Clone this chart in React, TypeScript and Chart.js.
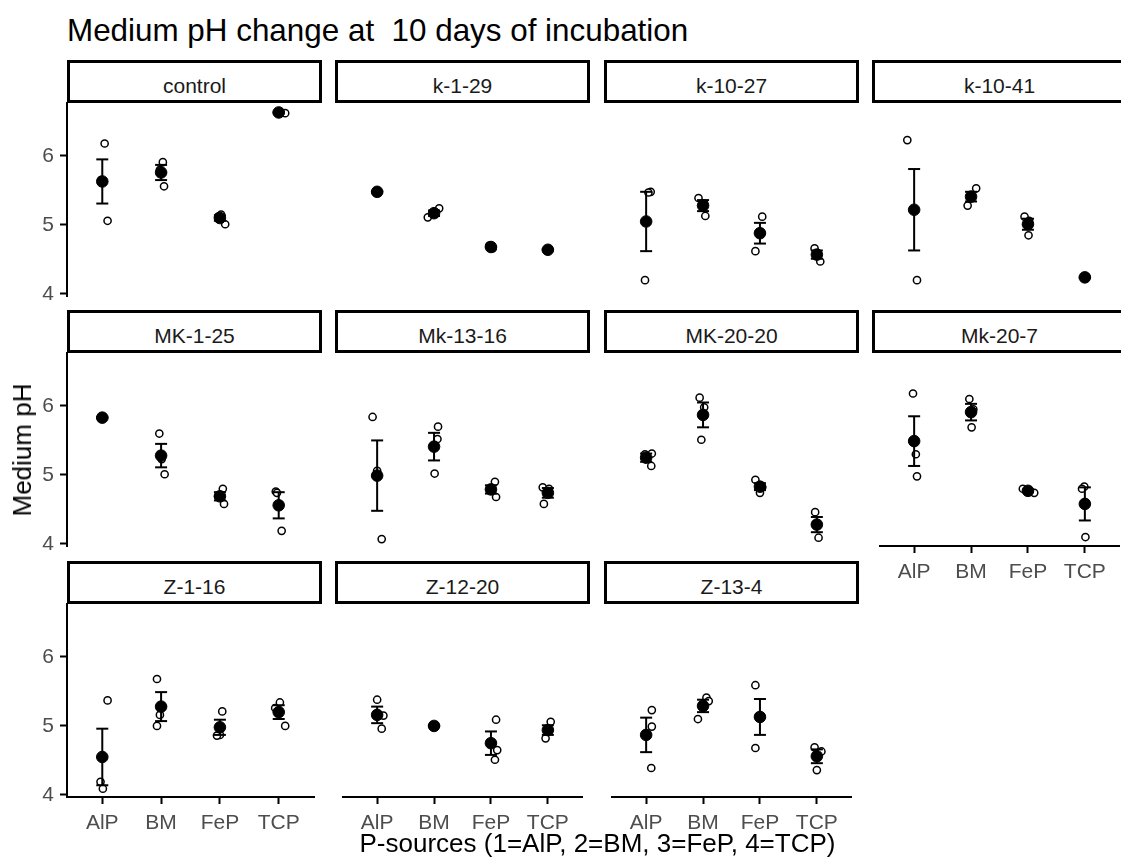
import React, { useEffect, useRef } from "react";
import { Chart, registerables } from "chart.js";

Chart.register(...registerables);

// Facet panels (isolates), in reading order
const isolates = [
  "control", "k-1-29", "k-10-27", "k-10-41",
  "MK-1-25", "Mk-13-16", "MK-20-20", "Mk-20-7",
  "Z-1-16", "Z-12-20", "Z-13-4",
];

// P-sources on the x axis (1..4)
const pSources = ["AlP", "BM", "FeP", "TCP"];
const phTicks = [4, 5, 6];

// Mean medium pH per isolate, by P-source
const meanPH = [
  [5.63, 5.76, 5.10, 6.63],
  [5.48, 5.17, 4.68, 4.64],
  [5.05, 5.28, 4.88, 4.57],
  [5.22, 5.41, 5.01, 4.24],
  [5.83, 5.28, 4.69, 4.56],
  [4.99, 5.41, 4.79, 4.74],
  [5.25, 5.87, 4.83, 4.28],
  [5.49, 5.91, 4.77, 4.58],
  [4.55, 5.28, 4.98, 5.20],
  [5.16, 5.00, 4.75, 4.94],
  [4.87, 5.29, 5.13, 4.56],
];

// Standard error of the mean
const sePH = [
  [0.32, 0.11, 0.04, 0.01],
  [0.01, 0.04, 0.01, 0.01],
  [0.43, 0.08, 0.15, 0.06],
  [0.59, 0.07, 0.08, 0.01],
  [0.01, 0.17, 0.06, 0.19],
  [0.51, 0.20, 0.06, 0.07],
  [0.06, 0.18, 0.05, 0.11],
  [0.36, 0.12, 0.02, 0.24],
  [0.41, 0.21, 0.11, 0.10],
  [0.12, 0.01, 0.17, 0.07],
  [0.25, 0.09, 0.26, 0.10],
];

// Replicate pH readings (three per P-source)
const replicatePH = [
  [[6.18, 5.65, 5.06], [5.91, 5.80, 5.56], [5.01, 5.12, 5.15], [6.62, 6.63, 6.64]],
  [[5.48, 5.49, 5.47], [5.24, 5.11, 5.17], [4.66, 4.70, 4.68], [4.63, 4.64, 4.65]],
  [[5.48, 5.47, 4.20], [5.39, 5.31, 5.13], [5.12, 4.90, 4.62], [4.66, 4.58, 4.47]],
  [[6.23, 5.23, 4.20], [5.53, 5.42, 5.28], [5.12, 5.06, 4.85], [4.23, 4.24, 4.25]],
  [[5.82, 5.83, 5.84], [5.60, 5.23, 5.01], [4.80, 4.69, 4.58], [4.76, 4.74, 4.19]],
  [[5.84, 5.06, 4.07], [5.70, 5.52, 5.02], [4.90, 4.79, 4.68], [4.82, 4.80, 4.58]],
  [[5.31, 5.30, 5.13], [6.12, 5.98, 5.51], [4.93, 4.82, 4.74], [4.46, 4.29, 4.09]],
  [[6.18, 5.30, 4.98], [6.10, 5.95, 5.69], [4.80, 4.76, 4.74], [4.83, 4.80, 4.10]],
  [[5.37, 4.19, 4.09], [5.68, 5.16, 5.00], [5.21, 4.87, 4.86], [5.34, 5.26, 5.00]],
  [[5.38, 5.15, 4.96], [5.00, 4.99, 5.01], [5.09, 4.65, 4.51], [5.06, 4.94, 4.82]],
  [[5.23, 4.99, 4.39], [5.41, 5.36, 5.10], [5.59, 5.13, 4.68], [4.69, 4.63, 4.36]],
];

// Jittered x positions of the replicate readings
const replicateX = [
  [[1.04, 0.98, 1.09], [2.03, 1.98, 2.05], [3.09, 2.97, 3.02], [4.11, 3.98, 4.02]],
  [[0.98, 1.00, 1.02], [2.09, 1.89, 2.00], [3.03, 2.97, 3.00], [3.98, 4.00, 4.02]],
  [[1.08, 1.04, 0.98], [1.92, 2.02, 2.04], [3.04, 3.00, 2.92], [3.96, 4.00, 4.06]],
  [[0.88, 1.00, 1.05], [2.09, 2.00, 1.94], [2.94, 3.02, 3.01], [3.98, 4.00, 4.02]],
  [[0.98, 1.00, 1.02], [1.97, 2.01, 2.06], [3.05, 2.97, 3.07], [3.95, 3.97, 4.05]],
  [[0.92, 1.00, 1.08], [2.07, 2.06, 2.01], [3.07, 2.98, 3.09], [3.91, 4.02, 3.93]],
  [[1.10, 0.98, 1.09], [1.94, 2.02, 1.97], [2.92, 3.04, 3.00], [3.97, 3.98, 4.03]],
  [[0.98, 1.03, 1.05], [1.97, 2.04, 2.01], [2.91, 3.00, 3.11], [3.99, 3.95, 4.01]],
  [[1.09, 0.97, 1.01], [1.93, 1.98, 1.93], [3.04, 3.00, 2.95], [4.02, 3.94, 4.11]],
  [[1.00, 1.11, 1.08], [1.98, 2.00, 2.02], [3.09, 3.11, 3.07], [4.05, 4.02, 3.96]],
  [[1.10, 1.10, 1.09], [2.06, 2.10, 1.91], [2.92, 3.00, 2.92], [3.96, 4.08, 4.00]],
];

const FONT = "'Liberation Sans', Arial, Helvetica, sans-serif";
const COL_LEFT = [67, 335, 604, 872];
const ROW_TOP = [103, 353, 604];
const PANEL_W = 255;
const PANEL_H = 193;
const STRIP_H = 43;
const Y_AXIS_W = 67;
const X_AXIS_H = 60;
const TOP_PAD = 26;
const BOTTOM_PAD = 26;
const X_MIN = 0.4;
const X_MAX = 4.6;
const Y_MIN = 3.97;
const Y_MAX = 6.767;

function panelPlace(index: number) {
  const row = Math.floor(index / 4);
  const col = index % 4;
  const hasX = row === 2 || (row === 1 && col === 3);
  const hasY = col === 0;
  return { row, col, hasX, hasY };
}

function Panel({ index }: { index: number }) {
  const ref = useRef<HTMLCanvasElement | null>(null);
  const { row, col, hasX, hasY } = panelPlace(index);
  const left = hasY ? COL_LEFT[col] - Y_AXIS_W : COL_LEFT[col];
  const width = PANEL_W + (hasY ? Y_AXIS_W : 0);
  const height = TOP_PAD + PANEL_H + (hasX ? X_AXIS_H : BOTTOM_PAD);

  useEffect(() => {
    const canvas = ref.current;
    if (!canvas) return;

    const reps = replicatePH[index].flatMap((vals, k) =>
      vals.map((y, j) => ({ x: replicateX[index][k][j], y }))
    );
    const means = meanPH[index].map((y, k) => ({ x: k + 1, y }));
    const lo = meanPH[index].map((m, k) => m - sePH[index][k]);
    const hi = meanPH[index].map((m, k) => m + sePH[index][k]);
    const whiskers = means.flatMap((p, k) => [
      { x: p.x, y: lo[k] },
      { x: p.x, y: hi[k] },
      { x: p.x, y: null as any },
    ]);
    const caps = means.flatMap((p, k) => [
      { x: p.x, y: lo[k] },
      { x: p.x, y: hi[k] },
    ]);

    const tickFont = { family: FONT, size: 21 };
    const axisGrid = {
      display: true,
      drawOnChartArea: false,
      drawTicks: true,
      tickLength: 7,
      tickWidth: 2,
      tickColor: "#000000",
    };
    const axisBorder = { display: true, color: "#000000", width: 2 };

    const chart = new Chart(canvas, {
      type: "scatter",
      data: {
        datasets: [
          {
            label: "mean",
            data: means,
            order: 0,
            pointRadius: 5.8,
            pointBackgroundColor: "#000000",
            pointBorderColor: "#000000",
            pointBorderWidth: 1,
          },
          {
            label: "se caps",
            data: caps,
            order: 1,
            pointStyle: "line",
            pointRadius: 6,
            pointBorderWidth: 2,
            pointBorderColor: "#000000",
          },
          {
            label: "se",
            data: whiskers,
            order: 2,
            showLine: true,
            spanGaps: false,
            borderColor: "#000000",
            borderWidth: 2,
            pointRadius: 0,
          },
          {
            label: "replicates",
            data: reps,
            order: 3,
            pointRadius: 3.6,
            pointBackgroundColor: "#ffffff",
            pointBorderColor: "#000000",
            pointBorderWidth: 1.5,
          },
        ] as any,
      },
      options: {
        animation: false,
        responsive: false,
        devicePixelRatio: 1,
        events: [],
        layout: {
          padding: { top: TOP_PAD, left: 0, right: 0, bottom: hasX ? 0 : BOTTOM_PAD },
        },
        plugins: {
          legend: { display: false },
          tooltip: { enabled: false },
          title: { display: false },
        },
        scales: {
          x: {
            type: "linear",
            display: hasX,
            min: X_MIN,
            max: X_MAX,
            afterBuildTicks: (s: any) => {
              s.ticks = pSources.map((_, k) => ({ value: k + 1 }));
            },
            afterFit: (s: any) => {
              s.height = hasX ? X_AXIS_H : 0;
            },
            ticks: {
              autoSkip: false,
              maxRotation: 0,
              padding: 7,
              color: "#4D4D4D",
              font: tickFont,
              callback: (v: any) => pSources[Math.round(Number(v)) - 1] ?? "",
            },
            grid: axisGrid,
            border: axisBorder,
          },
          y: {
            type: "linear",
            display: hasY,
            min: Y_MIN,
            max: Y_MAX,
            afterBuildTicks: (s: any) => {
              s.ticks = phTicks.map((v) => ({ value: v }));
            },
            afterFit: (s: any) => {
              s.width = hasY ? Y_AXIS_W : 0;
            },
            ticks: {
              padding: 6,
              color: "#4D4D4D",
              font: tickFont,
              callback: (v: any) => String(v),
            },
            grid: axisGrid,
            border: axisBorder,
          },
        } as any,
      },
    } as any);

    return () => chart.destroy();
  }, [index]);

  return (
    <canvas
      ref={ref}
      width={width}
      height={height}
      style={{ position: "absolute", left, top: ROW_TOP[row] - TOP_PAD, width, height }}
    />
  );
}

function Strip({ index }: { index: number }) {
  const { row, col } = panelPlace(index);
  const top = ROW_TOP[row] - STRIP_H;
  return (
    <>
      <div
        style={{
          position: "absolute",
          left: COL_LEFT[col],
          top,
          width: PANEL_W,
          height: STRIP_H,
          boxSizing: "border-box",
          border: "3px solid #000000",
          background: "#ffffff",
        }}
      />
      <div
        style={{
          position: "absolute",
          left: COL_LEFT[col],
          top: top + 15,
          width: PANEL_W,
          height: 21,
          lineHeight: "21px",
          fontSize: 21,
          color: "#1A1A1A",
          textAlign: "center",
          whiteSpace: "nowrap",
        }}
      >
        {isolates[index]}
      </div>
    </>
  );
}

export default function App() {
  return (
    <div
      style={{
        position: "fixed",
        left: 0,
        top: 0,
        width: 1121,
        height: 864,
        overflow: "hidden",
        background: "#ffffff",
        fontFamily: FONT,
      }}
    >
      <div
        style={{
          position: "absolute",
          left: 67,
          top: 14.5,
          fontSize: 31.4,
          lineHeight: "31px",
          color: "#000000",
          whiteSpace: "pre",
        }}
      >
        {"Medium pH change at  10 days of incubation"}
      </div>

      {isolates.map((_, i) => (
        <Strip key={"s" + i} index={i} />
      ))}
      {isolates.map((_, i) => (
        <Panel key={"p" + i} index={i} />
      ))}

      <div
        style={{
          position: "absolute",
          left: 22,
          top: 450,
          fontSize: 26,
          lineHeight: "26px",
          color: "#000000",
          whiteSpace: "nowrap",
          transform: "translate(-50%, -50%) rotate(-90deg)",
        }}
      >
        Medium pH
      </div>

      <div
        style={{
          position: "absolute",
          left: 597.5,
          top: 830,
          fontSize: 26,
          lineHeight: "26px",
          color: "#000000",
          whiteSpace: "nowrap",
          transform: "translateX(-50%)",
        }}
      >
        P-sources (1=AlP, 2=BM, 3=FeP, 4=TCP)
      </div>
    </div>
  );
}
